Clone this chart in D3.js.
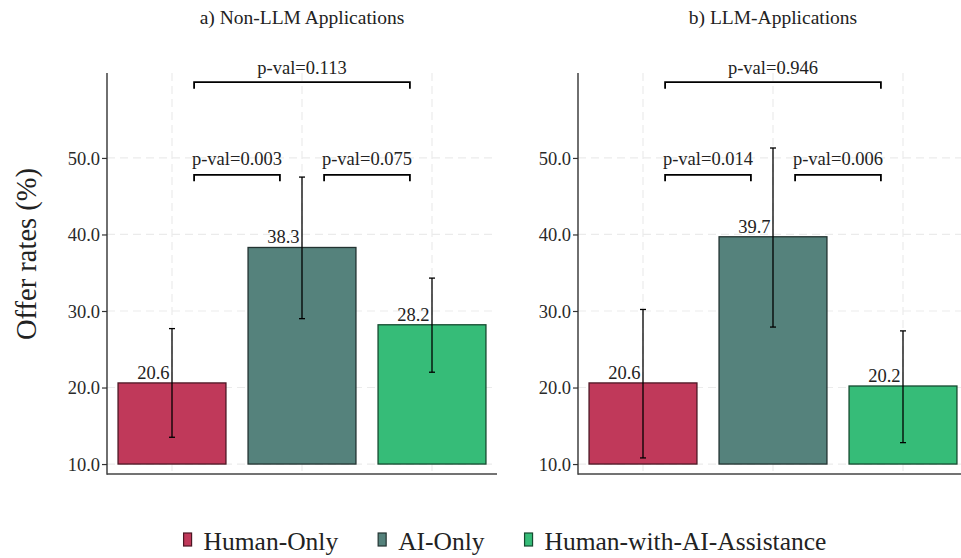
<!DOCTYPE html>
<html>
<head>
<meta charset="utf-8">
<script src="https://cdn.jsdelivr.net/npm/d3@7"></script>
<style>
  html, body { margin: 0; padding: 0; background: #fff; }
  svg { display: block; font-family: "Liberation Serif", "DejaVu Serif", serif; }
</style>
</head>
<body>
<svg id="chart" width="961" height="558"></svg>
<script>
// ---- data ----
const categories = ["Human-Only", "AI-Only", "Human-with-AI-Assistance"];
const panelTitles = ["a) Non-LLM Applications", "b) LLM-Applications"];
const nonLLMRates = [20.6, 38.3, 28.2];
const nonLLMLow = [13.5, 29.0, 22.0];
const nonLLMHigh = [27.7, 47.5, 34.3];
const llmRates = [20.6, 39.7, 20.2];
const llmLow = [10.8, 27.9, 12.8];
const llmHigh = [30.2, 51.3, 27.4];
const nonLLMPvals = ["0.003", "0.075", "0.113"];
const llmPvals = ["0.014", "0.006", "0.946"];
const yTicks = [10, 20, 30, 40, 50];
const colors = ["#C0395A", "#55827C", "#36BC78"];
const yLabel = "Offer rates (%)";

const panels = [
  { title: panelTitles[0], rates: nonLLMRates, low: nonLLMLow, high: nonLLMHigh, pvals: nonLLMPvals, x0: 107 },
  { title: panelTitles[1], rates: llmRates, low: llmLow, high: llmHigh, pvals: llmPvals, x0: 578 }
];
// comparisons: [from index, to index, level]
const comparisons = [[0, 1, 0], [1, 2, 0], [0, 2, 1]];
const bracketLevels = [47.8, 59.9];
const bracketDrop = 0.85;

const svg = d3.select("#chart");
const panelW = 390;
const yTop = 73, yBot = 474;
const y = d3.scaleLinear().domain([8.7, 61.1]).range([yBot, yTop]);

panels.forEach(p => {
  const g = svg.append("g");
  const x = d3.scaleLinear().domain([0.5, 3.5]).range([p.x0, p.x0 + panelW]);
  const pos = categories.map((c, i) => i + 1);
  const barW = 0.83;

  // grid
  g.append("g").selectAll("line.h").data(yTicks).join("line")
    .attr("x1", p.x0).attr("x2", p.x0 + panelW)
    .attr("y1", d => y(d)).attr("y2", d => y(d))
    .attr("stroke", "#ebebeb").attr("stroke-width", 1.2).attr("stroke-dasharray", "8,5");
  g.append("g").selectAll("line.v").data(pos).join("line")
    .attr("x1", d => x(d)).attr("x2", d => x(d))
    .attr("y1", yTop).attr("y2", yBot)
    .attr("stroke", "#ebebeb").attr("stroke-width", 1.2).attr("stroke-dasharray", "8,5");

  // bars
  g.append("g").selectAll("rect").data(p.rates).join("rect")
    .attr("x", (d, i) => x(pos[i] - barW / 2))
    .attr("width", (d, i) => x(pos[i] + barW / 2) - x(pos[i] - barW / 2))
    .attr("y", d => y(d))
    .attr("height", d => y(10) - y(d))
    .attr("fill", (d, i) => colors[i])
    .attr("stroke", (d, i) => d3.color(colors[i]).darker(2.6))
    .attr("stroke-width", 1.3);

  // value labels
  g.append("g").selectAll("text").data(p.rates).join("text")
    .attr("x", (d, i) => x(pos[i]) - 2.5)
    .attr("y", d => y(d) - 4)
    .attr("text-anchor", "end")
    .attr("font-size", 18.5).attr("fill", "#222")
    .text(d => d.toFixed(1));

  // error bars
  const eb = g.append("g").attr("stroke", "#000").attr("stroke-width", 1.3);
  p.rates.forEach((d, i) => {
    const cx = x(pos[i]);
    eb.append("line").attr("x1", cx).attr("x2", cx).attr("y1", y(p.low[i])).attr("y2", y(p.high[i]));
    eb.append("line").attr("x1", cx - 3).attr("x2", cx + 3).attr("y1", y(p.low[i])).attr("y2", y(p.low[i]));
    eb.append("line").attr("x1", cx - 3).attr("x2", cx + 3).attr("y1", y(p.high[i])).attr("y2", y(p.high[i]));
  });

  // axes
  const yAxis = d3.axisLeft(y).tickValues(yTicks).tickFormat(d3.format(".1f")).tickSize(5).tickPadding(2);
  const ya = g.append("g").attr("transform", `translate(${p.x0},0)`).call(yAxis);
  ya.select(".domain").remove();
  ya.selectAll(".tick line").attr("stroke", "#333").attr("stroke-width", 1.2);
  ya.selectAll(".tick text").attr("font-size", 18.5).attr("fill", "#2a2a2a")
    .attr("font-family", "Liberation Serif, serif").attr("dy", "0.34em");
  g.append("line").attr("x1", p.x0).attr("x2", p.x0).attr("y1", yTop).attr("y2", yBot + 0.7)
    .attr("stroke", "#333").attr("stroke-width", 1.4);
  g.append("line").attr("x1", p.x0).attr("x2", p.x0 + panelW).attr("y1", yBot).attr("y2", yBot)
    .attr("stroke", "#444").attr("stroke-width", 1.5);

  // brackets
  const bg = g.append("g");
  comparisons.forEach((c, k) => {
    const xa = x(pos[c[0]] + 0.17), xb = x(pos[c[1]] - 0.17);
    const yl = y(bracketLevels[c[2]]), yd = y(bracketLevels[c[2]] - bracketDrop);
    bg.append("path")
      .attr("d", `M${xa},${yd}V${yl}H${xb}V${yd}`)
      .attr("fill", "none").attr("stroke", "#000").attr("stroke-width", 1.8);
    bg.append("text")
      .attr("x", (xa + xb) / 2).attr("y", yl - (c[2] === 1 ? 8 : 10))
      .attr("text-anchor", "middle").attr("font-size", 18.5).attr("fill", "#222")
      .text("p-val=" + p.pvals[k]);
  });

  // title
  svg.append("text")
    .attr("x", x(2)).attr("y", 24)
    .attr("text-anchor", "middle").attr("font-size", 19.5).attr("fill", "#222")
    .text(p.title);
});

// y label
svg.append("text")
  .attr("transform", "translate(36,254) rotate(-90)")
  .attr("text-anchor", "middle").attr("font-size", 28.5).attr("fill", "#222")
  .text(yLabel);

// legend
const leg = svg.append("g");
let lx = 0;
categories.forEach((c, i) => {
  const it = leg.append("g").attr("transform", `translate(${lx},0)`);
  it.append("rect").attr("x", 0).attr("y", 533).attr("width", 8).attr("height", 13)
    .attr("fill", colors[i]).attr("stroke", d3.color(colors[i]).darker(2.6)).attr("stroke-width", 1.2);
  const t = it.append("text").attr("x", 20).attr("y", 550).attr("font-size", 25.5).attr("fill", "#222").text(c);
  const w = t.node().getComputedTextLength();
  lx += 20 + w + 40;
});
const totalW = lx - 40;
leg.attr("transform", `translate(${505 - totalW / 2},0)`);
</script>
</body>
</html>
